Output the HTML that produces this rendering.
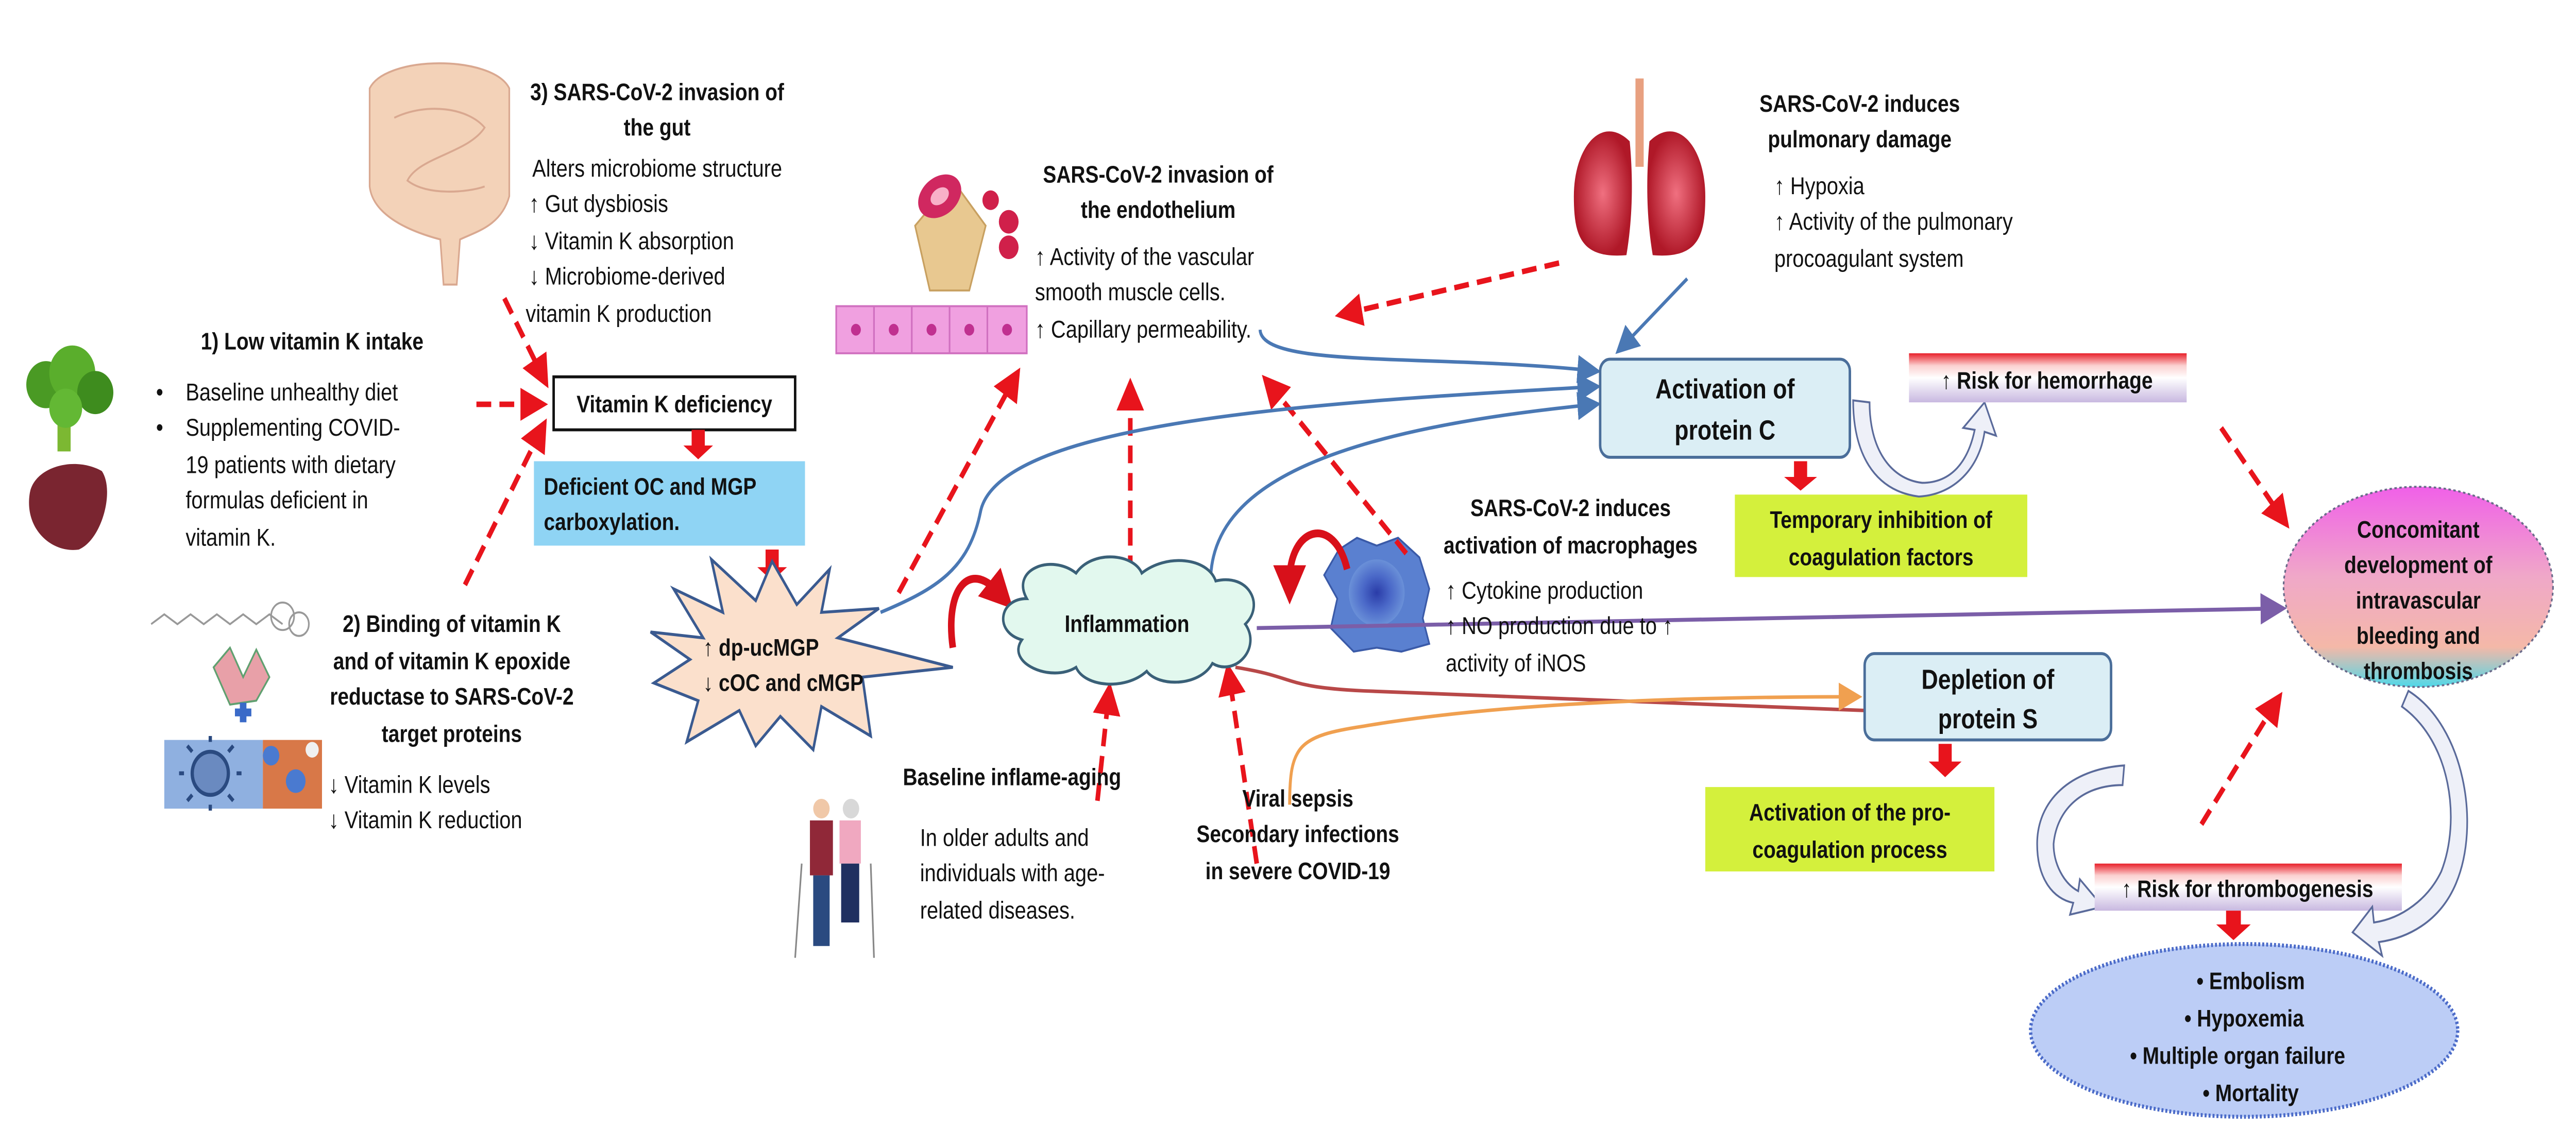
<!DOCTYPE html>
<html><head><meta charset="utf-8"><style>
html,body{margin:0;padding:0;background:#fff;width:100%;height:100%;overflow:hidden}
svg{display:block;position:fixed;left:0;top:0;width:100vw;height:100vh}
text{font-family:"Liberation Sans",sans-serif;font-size:12.5px;fill:#111}
.b{font-weight:bold;font-size:12.2px}
</style></head><body>
<svg viewBox="0 0 1568 584.4" preserveAspectRatio="none" xmlns="http://www.w3.org/2000/svg">
<defs>
<marker id="ra" markerWidth="6" markerHeight="6" refX="4" refY="3" orient="auto" markerUnits="strokeWidth"><path d="M0,0 L6,3 L0,6 z" fill="#e8141c"/></marker>
<marker id="ba" markerWidth="8" markerHeight="8" refX="6" refY="4" orient="auto" markerUnits="strokeWidth"><path d="M0,0 L8,4 L0,8 z" fill="#4a78b4"/></marker>
<marker id="pa" markerWidth="8" markerHeight="8" refX="6" refY="4" orient="auto" markerUnits="strokeWidth"><path d="M0,0 L8,4 L0,8 z" fill="#7b5ea8"/></marker>
<marker id="oa" markerWidth="8" markerHeight="8" refX="6" refY="4" orient="auto" markerUnits="strokeWidth"><path d="M0,0 L8,4 L0,8 z" fill="#f0a050"/></marker>
<marker id="sr" markerWidth="5" markerHeight="5" refX="2" refY="2.5" orient="auto" markerUnits="strokeWidth"><path d="M0,0 L5,2.5 L0,5 z" fill="#d8101a"/></marker>
<linearGradient id="bar" x1="0" y1="0" x2="0" y2="1"><stop offset="0" stop-color="#e8202a"/><stop offset="0.25" stop-color="#fbd0d0"/><stop offset="0.5" stop-color="#ffffff"/><stop offset="1" stop-color="#c8b8e0"/></linearGradient>
<linearGradient id="conc" x1="0" y1="0" x2="0" y2="1"><stop offset="0" stop-color="#f060e8"/><stop offset="0.45" stop-color="#f0a8c8"/><stop offset="0.8" stop-color="#f4b8a8"/><stop offset="1" stop-color="#50d8e8"/></linearGradient>
<radialGradient id="mac"><stop offset="0" stop-color="#2a3ca8"/><stop offset="0.5" stop-color="#4a68c8"/><stop offset="1" stop-color="#6a90d8"/></radialGradient>
<radialGradient id="lung"><stop offset="0" stop-color="#f07080"/><stop offset="1" stop-color="#b01828"/></radialGradient>
</defs>

<g>
<rect x="35" y="205" width="8" height="25" fill="#7cb832"/>
<circle cx="28" cy="196" r="12" fill="#4a9a24"/><circle cx="44" cy="190" r="14" fill="#5aae2c"/><circle cx="58" cy="200" r="11" fill="#3e8c1e"/><circle cx="40" cy="208" r="10" fill="#63b834"/>
<path d="M18,252 C20,238 45,232 62,240 C70,250 62,275 48,280 C32,282 15,270 18,252 z" fill="#7a2530"/>
</g>
<g fill="#f3d2b8" stroke="#d9a890" stroke-width="1">
<path d="M225,45 C235,28 300,28 310,45 L310,100 C305,115 290,118 280,122 L278,145 L270,145 L268,122 C250,118 227,110 225,95 z"/>
<path d="M240,60 C260,52 285,55 295,65 C285,78 255,80 248,92 C260,100 285,98 295,95" fill="none"/>
</g>
<g>
<path d="M92,318 l8,-5 l8,5 l8,-5 l8,5 l8,-5 l8,5 l8,-5 l8,5 l8,-5 l8,5" stroke="#999" fill="none" stroke-width="1"/>
<circle cx="172" cy="314" r="7" stroke="#999" fill="none"/><circle cx="182" cy="318" r="6" stroke="#999" fill="none"/>
<path d="M130,340 l10,-10 l8,15 l8,-14 l8,14 l-8,12 l-16,2 z" fill="#e8a0a8" stroke="#60a070"/>
<path d="M143,363 h10 M148,358 v10" stroke="#3a6ac8" stroke-width="4"/>
<rect x="100" y="377" width="60" height="35" fill="#8fb0e0"/>
<rect x="160" y="377" width="36" height="35" fill="#d87848"/>
<circle cx="165" cy="385" r="5" fill="#4a7ad0"/><circle cx="180" cy="398" r="6" fill="#4a7ad0"/><circle cx="190" cy="382" r="4" fill="#f0f0f0"/>
<circle cx="128" cy="394" r="11" fill="#6a8ac0" stroke="#2a4a80" stroke-width="2"/>
<path d="M128,378 v-3 M128,410 v3 M112,394 h-3 M144,394 h3 M117,383 l-3,-3 M139,383 l3,-3 M117,405 l-3,3 M139,405 l3,3" stroke="#2a4a80" stroke-width="2"/>
</g>
<g>
<path d="M557,115 L580,92 L600,115 L590,148 L566,148 z" fill="#e8c890" stroke="#c8a060"/>
<ellipse cx="572" cy="100" rx="14" ry="10" fill="#d02860" transform="rotate(-30 572 100)"/>
<ellipse cx="572" cy="100" rx="6" ry="4" fill="#f8b0c8" transform="rotate(-30 572 100)"/>
<circle cx="603" cy="102" r="5" fill="#d0204a"/><circle cx="614" cy="113" r="6" fill="#d0204a"/><circle cx="614" cy="126" r="6" fill="#d0204a"/>
<rect x="509" y="156" width="116" height="24" fill="#f0a0e0" stroke="#d070c0"/>
<g fill="#c03090"><circle cx="521" cy="168" r="3"/><circle cx="544" cy="168" r="3"/><circle cx="567" cy="168" r="3"/><circle cx="590" cy="168" r="3"/><circle cx="613" cy="168" r="3"/></g>
<path d="M532,156 v24 M555,156 v24 M578,156 v24 M601,156 v24" stroke="#d070c0"/>
</g>
<g>
<path d="M998,40 v45" stroke="#e8a080" stroke-width="5"/>
<path d="M992,72 C975,58 958,75 958,100 C958,120 962,132 990,130 C994,110 994,90 992,72 z" fill="url(#lung)"/>
<path d="M1004,72 C1021,58 1038,75 1038,100 C1038,120 1034,132 1006,130 C1002,110 1002,90 1004,72 z" fill="url(#lung)"/>
</g>
<g>
<circle cx="500" cy="412" r="5" fill="#f0c8a8"/><rect x="493" y="418" width="14" height="28" fill="#902838"/><rect x="495" y="446" width="10" height="36" fill="#2a4a80"/>
<circle cx="518" cy="412" r="5" fill="#d8d8d8"/><rect x="511" y="418" width="13" height="22" fill="#f0a8c0"/><rect x="512" y="440" width="11" height="30" fill="#203060"/>
<path d="M488,440 L484,488 M530,440 L532,488" stroke="#888"/>
</g>
<g>
<path d="M815,280 L826,274 L838,278 L851,274 L864,284 L870,300 L866,315 L870,328 L853,332 L838,330 L824,332 L810,320 L814,305 L806,293 z" fill="#5a80d0" stroke="#3a5aa8"/>
<circle cx="838" cy="302" r="17" fill="url(#mac)"/>
</g>

<g stroke="#e8141c" stroke-width="2.8" stroke-dasharray="9,5" fill="none" marker-end="url(#ra)">
<path d="M290,206 L328,206"/>
<path d="M307,152 L331,193"/>
<path d="M283,298 L330,218"/>
<path d="M547,302 L618,192"/>
<path d="M688,292 L688,198"/>
<path d="M856,282 L772,195"/>
<path d="M668,408 L675,353"/>
<path d="M765,440 L748,343"/>
<path d="M949,134 L818,160"/>
<path d="M1352,218 L1390,265"/>
<path d="M1340,420 L1386,357"/>
</g>

<g stroke="#4a78b4" stroke-width="1.8" fill="none" marker-end="url(#ba)">
<path d="M1027,142 L986,178"/>
<path d="M767,168 C768,188 870,180 971,189"/>
<path d="M536,312 C570,300 590,290 597,260 C610,215 800,205 971,197"/>
<path d="M737,293 C740,250 800,220 971,206"/>
</g>
<path d="M765,320 L1388,310" stroke="#7b5ea8" stroke-width="2" fill="none" marker-end="url(#pa)"/>
<path d="M752,340 C790,345 780,350 830,352 L1135,362" stroke="#b84848" stroke-width="1.8" fill="none"/>
<path d="M785,410 C785,380 790,375 830,370 C900,360 1000,355 1130,355" stroke="#f0a050" stroke-width="1.8" fill="none" marker-end="url(#oa)"/>

<path d="M580,330 C575,300 590,285 608,302" stroke="#d8101a" stroke-width="4" fill="none" marker-end="url(#sr)"/>
<path d="M820,290 C812,262 785,268 785,296" stroke="#d8101a" stroke-width="4" fill="none" marker-end="url(#sr)"/>

<rect x="337" y="192" width="147" height="27" fill="#fff" stroke="#111" stroke-width="1.5"/>
<text x="410.5" y="210" text-anchor="middle" class="b">Vitamin K deficiency</text>
<path d="M421,219 h8 v8 h5 l-9,7 l-9,-7 h5 z" fill="#e8141c"/>
<rect x="325" y="235" width="165" height="43" fill="#8fd4f4"/>
<text x="331" y="252" class="b">Deficient OC and MGP</text>
<text x="331" y="270" class="b">carboxylation.</text>
<path d="M466,280 h8 v9 h5 l-9,7 l-9,-7 h5 z" fill="#e8141c"/>

<path d="M410,300 L440,312 L433,285 L460,306 L470,286 L485,308 L505,290 L500,312 L535,310 L510,325 L580,340 L525,345 L530,375 L500,360 L495,382 L475,365 L460,380 L450,362 L418,378 L425,357 L398,348 L420,336 L396,322 L428,325 z" fill="#fbe0cc" stroke="#3a5a90" stroke-width="1.5"/>
<text x="428" y="334" class="b">↑ dp-ucMGP</text>
<text x="428" y="352" class="b">↓ cOC and cMGP</text>

<path d="M625,305 C615,290 640,282 655,292 C665,280 690,282 695,292 C710,282 735,284 740,296 C760,292 770,308 758,318 C768,330 752,345 738,338 C730,350 705,350 698,342 C685,352 660,350 655,340 C640,348 612,338 622,326 C605,322 608,305 625,305 z" fill="#e2f8ee" stroke="#3a6078" stroke-width="1.5"/>
<text x="686" y="322" text-anchor="middle" class="b">Inflammation</text>

<rect x="974" y="183" width="152" height="50" rx="6" fill="#dbeef5" stroke="#4a6e9a" stroke-width="1.5"/>
<text x="1050" y="203" text-anchor="middle" class="b" style="font-size:14px">Activation of</text>
<text x="1050" y="224" text-anchor="middle" class="b" style="font-size:14px">protein C</text>
<path d="M1092,235 h8 v8 h6 l-10,7 l-10,-7 h6 z" fill="#e8141c"/>
<rect x="1056" y="252" width="178" height="42" fill="#d4f03c"/>
<text x="1145" y="269" text-anchor="middle" class="b">Temporary inhibition of</text>
<text x="1145" y="288" text-anchor="middle" class="b">coagulation factors</text>
<path d="M1128,204 C1128,230 1140,250 1168,253 C1190,252 1205,238 1208,220 L1215,222 L1208,205 L1195,218 L1202,219 C1198,235 1188,246 1170,246 C1150,244 1138,228 1138,205 z" fill="#eef0f8" stroke="#5a6a9a" stroke-width="1"/>
<rect x="1162" y="180" width="169" height="25" fill="url(#bar)"/>
<text x="1246" y="198" text-anchor="middle" class="b">↑ Risk for hemorrhage</text>

<ellipse cx="1472" cy="299" rx="82" ry="51" fill="url(#conc)" stroke="#6a6a8a" stroke-dasharray="1.5,1.5"/>
<text x="1472" y="274" text-anchor="middle" class="b">Concomitant</text>
<text x="1472" y="292" text-anchor="middle" class="b">development of</text>
<text x="1472" y="310" text-anchor="middle" class="b">intravascular</text>
<text x="1472" y="328" text-anchor="middle" class="b">bleeding and</text>
<text x="1472" y="346" text-anchor="middle" class="b">thrombosis</text>

<rect x="1135" y="333" width="150" height="44" rx="6" fill="#dbeef5" stroke="#4a6e9a" stroke-width="1.5"/>
<text x="1210" y="351" text-anchor="middle" class="b" style="font-size:14px">Depletion of</text>
<text x="1210" y="371" text-anchor="middle" class="b" style="font-size:14px">protein S</text>
<path d="M1180,379 h8 v9 h6 l-10,8 l-10,-8 h6 z" fill="#e8141c"/>
<rect x="1038" y="401" width="176" height="43" fill="#d4f03c"/>
<text x="1126" y="418" text-anchor="middle" class="b">Activation of the pro-</text>
<text x="1126" y="437" text-anchor="middle" class="b">coagulation process</text>
<path d="M1293,390 C1260,392 1240,408 1240,430 C1240,448 1250,458 1262,460 L1260,466 L1280,462 L1266,448 L1265,454 C1256,450 1250,440 1250,430 C1252,412 1268,400 1292,400 z" fill="#eef0f8" stroke="#5a6a9a" stroke-width="1"/>
<rect x="1275" y="440" width="187" height="24" fill="url(#bar)"/>
<text x="1368" y="457" text-anchor="middle" class="b">↑ Risk for thrombogenesis</text>
<path d="M1355,464 h9 v7 h6 l-10.5,8 l-10.5,-8 h6 z" fill="#e8141c"/>
<path d="M1466,352 C1500,370 1510,420 1495,450 C1485,470 1465,478 1448,480 L1450,487 L1432,475 L1444,462 L1445,470 C1462,468 1478,458 1486,444 C1498,418 1492,378 1462,360 z" fill="#eef0f8" stroke="#5a6a9a" stroke-width="1"/>

<ellipse cx="1366" cy="525" rx="130" ry="44" fill="#bccdf6" stroke="#4a6ac8" stroke-width="2" stroke-dasharray="1.2,1.2"/>
<text x="1370" y="504" text-anchor="middle" class="b">•    Embolism</text>
<text x="1366" y="523" text-anchor="middle" class="b">•    Hypoxemia</text>
<text x="1362" y="542" text-anchor="middle" class="b">•   Multiple organ failure</text>
<text x="1370" y="561" text-anchor="middle" class="b">•    Mortality</text>

<text x="190" y="178" text-anchor="middle" class="b">1) Low vitamin K intake</text>
<text x="95" y="204">•</text><text x="113" y="204">Baseline unhealthy diet</text>
<text x="95" y="222">•</text><text x="113" y="222">Supplementing COVID-</text>
<text x="113" y="241">19  patients with dietary</text>
<text x="113" y="259">formulas deficient in</text>
<text x="113" y="278">vitamin K.</text>

<text x="400" y="51" text-anchor="middle" class="b">3) SARS-CoV-2 invasion of</text>
<text x="400" y="69" text-anchor="middle" class="b">the gut</text>
<text x="324" y="90">Alters microbiome structure</text>
<text x="322" y="108">↑ Gut dysbiosis</text>
<text x="322" y="127">↓ Vitamin K absorption</text>
<text x="322" y="145">↓ Microbiome-derived</text>
<text x="320" y="164">vitamin K  production</text>

<text x="275" y="322" text-anchor="middle" class="b">2) Binding of vitamin K</text>
<text x="275" y="341" text-anchor="middle" class="b">and of vitamin K epoxide</text>
<text x="275" y="359" text-anchor="middle" class="b">reductase to SARS-CoV-2</text>
<text x="275" y="378" text-anchor="middle" class="b">target proteins</text>
<text x="200" y="404">↓ Vitamin K levels</text>
<text x="200" y="422">↓ Vitamin K reduction</text>

<text x="705" y="93" text-anchor="middle" class="b">SARS-CoV-2 invasion of</text>
<text x="705" y="111" text-anchor="middle" class="b">the endothelium</text>
<text x="630" y="135">↑ Activity of the vascular</text>
<text x="630" y="153">smooth muscle cells.</text>
<text x="630" y="172">↑ Capillary permeability.</text>

<text x="1132" y="57" text-anchor="middle" class="b">SARS-CoV-2 induces</text>
<text x="1132" y="75" text-anchor="middle" class="b">pulmonary damage</text>
<text x="1080" y="99">↑ Hypoxia</text>
<text x="1080" y="117">↑ Activity of the pulmonary</text>
<text x="1080" y="136">procoagulant system</text>

<text x="956" y="263" text-anchor="middle" class="b">SARS-CoV-2 induces</text>
<text x="956" y="282" text-anchor="middle" class="b">activation of macrophages</text>
<text x="880" y="305">↑ Cytokine production</text>
<text x="880" y="323">↑ NO production due to ↑</text>
<text x="880" y="342">activity of iNOS</text>

<text x="616" y="400" text-anchor="middle" class="b">Baseline inflame-aging</text>
<text x="560" y="431">In older adults and</text>
<text x="560" y="449">individuals with age-</text>
<text x="560" y="468">related diseases.</text>

<text x="790" y="411" text-anchor="middle" class="b">Viral sepsis</text>
<text x="790" y="429" text-anchor="middle" class="b">Secondary infections</text>
<text x="790" y="448" text-anchor="middle" class="b">in severe COVID-19</text>
</svg>
</body></html>
